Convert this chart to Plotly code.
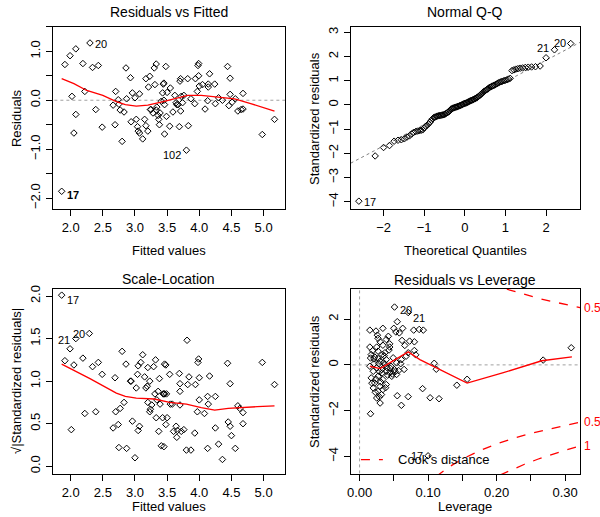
import plotly.graph_objects as go
from statistics import NormalDist

# ---------------- Data ----------------
# Panel 1: Residuals vs Fitted
fitted1 = [1.86,1.91,1.99,2.08,2.30,2.19,2.34,2.43,2.02,2.22,
           2.08,2.05,2.39,2.49,2.66,2.70,2.69,2.74,2.75,2.77,
           2.80,2.83,2.86,2.87,2.93,2.96,2.94,3.00,3.02,3.04,
           3.05,3.07,3.07,3.12,3.15,3.17,3.17,3.20,3.21,3.23,
           3.24,3.25,3.28,3.30,3.31,3.33,3.33,3.34,3.36,3.37,
           3.38,3.39,3.41,3.43,3.44,3.45,3.45,3.46,3.46,3.48,
           3.49,3.50,3.54,3.55,3.59,3.62,3.64,3.65,3.67,3.69,
           3.70,3.71,3.71,3.72,3.74,3.76,3.80,3.82,3.83,3.87,
           3.93,3.94,3.97,3.98,3.99,3.99,4.00,4.05,4.09,4.13,
           4.14,4.14,4.16,4.24,4.25,4.30,4.36,4.44,4.46,4.48,
           4.48,4.51,4.56,4.60,4.65,4.68,4.68,4.98,5.17]
resid1 = [-1.86,0.73,0.91,1.05,1.17,0.75,0.67,0.71,0.08,0.18,
          -0.29,-0.67,-0.19,-0.55,-0.10,0.18,-0.50,0.01,-0.08,-0.20,
          -0.84,-0.24,0.66,0.03,0.46,0.15,-0.44,0.05,-0.39,-0.54,
          -0.63,0.13,-0.67,-0.79,-0.39,0.44,-0.52,-0.63,0.27,0.49,
          -0.19,-0.19,-0.26,0.66,0.32,0.74,-0.20,-0.14,-0.31,-0.39,
          -0.50,-0.26,-0.02,0.15,0.33,0.35,0.00,-0.09,-0.69,0.69,
          -0.33,0.16,-0.53,0.25,-0.24,0.10,-0.05,-0.09,-0.09,-0.54,
          0.39,0.44,-0.22,0.08,-0.05,0.10,-1.02,0.44,-0.52,0.03,
          -0.07,0.44,0.18,0.71,0.75,0.50,0.29,0.32,-0.18,-0.01,
          0.33,0.27,0.54,0.33,-0.07,0.05,0.00,0.69,-0.11,0.45,
          0.12,-0.04,0.03,-0.22,-0.19,-0.18,0.14,-0.70,-0.39]
smooth1_x = [1.86,2.05,2.25,2.5,2.71,2.85,3.02,3.2,3.44,3.6,3.82,4.03,4.3,4.55,4.8,5.17]
smooth1_y = [0.44,0.34,0.20,0.10,-0.03,-0.09,-0.12,-0.10,-0.03,0.03,0.10,0.10,0.07,0.03,-0.07,-0.22]
labels1 = [("20", 2.30, 1.17, "left"), ("102", 3.80, -1.02, "right"), ("<b>17</b>", 1.86, -1.86, "left")]

# Panel 2: Normal Q-Q (sorted standardized residuals)
qq_sample = [-3.98,-2.11,-1.76,-1.68,-1.50,-1.46,-1.44,-1.40,-1.33,-1.28,
             -1.20,-1.13,-1.10,-1.08,-1.06,-1.05,-1.03,-0.95,-0.88,-0.84,
             -0.78,-0.72,-0.64,-0.57,-0.52,-0.50,-0.48,-0.46,-0.45,-0.44,
             -0.43,-0.42,-0.41,-0.40,-0.38,-0.35,-0.32,-0.30,-0.27,-0.22,
             -0.17,-0.15,-0.13,-0.12,-0.10,-0.09,-0.08,-0.06,-0.05,-0.03,
             -0.02,0.00,0.02,0.04,0.06,0.07,0.08,0.10,0.12,0.14,
             0.16,0.18,0.19,0.21,0.23,0.25,0.27,0.29,0.32,0.35,
             0.38,0.42,0.46,0.50,0.54,0.57,0.60,0.63,0.66,0.70,
             0.73,0.75,0.78,0.80,0.82,0.85,0.88,0.91,0.94,0.96,
             0.98,1.00,1.02,1.04,1.07,1.10,1.42,1.45,1.48,1.50,
             1.52,1.53,1.55,1.56,1.57,1.58,1.61,1.95,2.28,2.54]
qq_line_x = [-2.81, 2.84]
qq_line_y = [-2.41, 2.59]

# Panel 3: Scale-Location
fitted3 = [1.86,1.91,1.99,2.01,2.05,2.08,2.19,2.22,2.29,2.34,
           2.39,2.43,2.49,2.66,2.69,2.70,2.74,2.75,2.77,2.80,
           2.83,2.86,2.87,2.93,2.94,2.96,3.00,3.02,3.04,3.05,
           3.05,3.07,3.09,3.12,3.15,3.17,3.19,3.20,3.20,3.23,
           3.23,3.24,3.26,3.29,3.31,3.32,3.33,3.34,3.36,3.37,
           3.38,3.39,3.41,3.43,3.44,3.45,3.45,3.46,3.46,3.48,
           3.49,3.48,3.50,3.54,3.55,3.58,3.60,3.64,3.65,3.66,
           3.69,3.70,3.70,3.70,3.72,3.76,3.80,3.81,3.82,3.84,
           3.87,3.93,3.94,3.97,3.98,3.99,4.00,4.00,4.08,4.13,
           4.13,4.14,4.16,4.25,4.25,4.30,4.36,4.44,4.45,4.48,
           4.48,4.50,4.56,4.60,4.63,4.68,4.68,4.98,5.17]
sqrt_std3 = [2.01,1.24,1.38,0.43,1.19,1.50,1.27,0.62,1.56,1.17,
             0.64,1.22,1.08,0.45,1.04,0.64,0.49,0.22,0.68,1.35,
             0.75,1.20,0.21,1.00,1.00,0.53,0.10,0.92,1.08,0.42,
             1.18,0.47,1.22,1.31,1.05,0.92,0.94,1.16,0.75,0.64,
             1.00,0.67,0.72,1.17,0.85,1.25,0.57,0.78,0.88,0.41,
             1.03,0.73,0.24,0.57,0.85,0.23,0.85,1.20,0.85,1.19,
             0.85,0.49,0.57,1.08,0.73,0.73,0.41,0.47,0.34,0.42,
             1.09,0.97,0.88,0.72,0.41,0.43,0.19,1.48,0.96,1.05,
             0.19,0.39,0.96,0.64,1.22,1.26,1.04,0.78,0.62,0.82,
             0.21,0.73,1.06,0.82,0.45,0.26,0.08,1.21,0.52,0.97,
             0.47,0.36,0.21,0.71,0.68,0.63,0.50,1.22,0.96]
smooth3_x = [1.86,2.3,2.71,2.85,3.02,3.3,3.54,3.8,4.03,4.24,4.45,4.62,4.9,5.17]
smooth3_y = [1.20,1.03,0.86,0.82,0.80,0.79,0.75,0.73,0.69,0.66,0.68,0.69,0.70,0.71]
labels3 = [("17", 1.86, 2.01, "left"), ("21", 2.08, 1.50, "right"), ("20", 2.29, 1.56, "right")]

# Panel 4: Residuals vs Leverage
leverage4 = [0.051,0.071,0.055,0.015,0.024,0.034,0.050,0.053,0.063,0.079,
             0.087,0.093,0.062,0.027,0.030,0.025,0.015,0.039,0.044,0.034,
             0.073,0.080,0.071,0.080,0.017,0.027,0.037,0.021,0.015,0.030,
             0.039,0.037,0.049,0.054,0.061,0.068,0.046,0.051,0.044,0.054,
             0.039,0.032,0.025,0.020,0.017,0.027,0.034,0.022,0.030,0.039,
             0.020,0.027,0.034,0.025,0.032,0.055,0.071,0.061,0.016,0.092,
             0.030,0.103,0.116,0.109,0.112,0.142,0.157,0.268,0.309,0.100,
             0.082,0.022,0.028,0.033,0.041,0.045,0.048,0.018,0.024,0.029,
             0.036,0.043,0.026,0.019,0.031,0.038,0.023,0.047,0.052,0.057,
             0.035,0.040,0.021,0.027,0.033,0.016,0.029,0.042,0.058,0.065,
             0.060,0.066,0.044]
std4 = [2.53,2.29,1.89,1.52,1.48,1.60,1.60,1.44,1.60,1.52,
        1.55,1.52,1.07,1.16,1.01,0.78,0.78,1.11,0.92,0.86,
        1.04,1.01,0.53,0.63,0.45,0.60,0.53,0.26,-0.06,0.16,
        0.23,0.01,0.31,0.09,0.23,0.38,-0.06,-0.21,-0.35,-0.42,
        -0.28,-0.21,-0.13,-0.28,-0.57,-0.50,-0.64,-0.79,-0.94,-0.86,
        -1.01,-1.16,-1.08,-1.45,-1.30,-1.35,-1.39,-1.77,-2.14,-1.04,
        -1.67,-1.44,-1.48,0.07,-0.19,-0.89,-0.63,0.21,0.75,-3.98,
        0.44,0.35,0.05,-0.35,-0.45,-0.15,-0.40,-0.80,-0.62,-0.30,
        0.40,0.65,1.30,0.62,-0.75,-1.00,-1.20,-0.50,-0.30,-0.25,
        0.10,-0.12,0.05,0.28,0.45,0.30,-1.40,1.25,1.40,-0.20,
        0.05,0.85,0.78]
smooth4_x = [0.015,0.030,0.044,0.063,0.071,0.088,0.100,0.126,0.157,0.21,0.266,0.310]
smooth4_y = [-0.06,-0.16,0.09,0.45,0.57,0.23,0.05,-0.35,-0.80,-0.34,0.18,0.35]
cook05_up_x = [0.215,0.24,0.26,0.28,0.30,0.322]
cook05_up_y = [3.31,3.08,2.92,2.78,2.65,2.51]
cook05_lo_x = [0.112,0.13,0.15,0.175,0.20,0.225,0.25,0.275,0.30,0.322]
cook05_lo_y = [-4.88,-4.48,-4.12,-3.76,-3.46,-3.21,-3.00,-2.81,-2.65,-2.51]
cook1_lo_x = [0.205,0.22,0.24,0.26,0.28,0.30,0.322]
cook1_lo_y = [-4.82,-4.61,-4.36,-4.13,-3.93,-3.74,-3.55]
cook_labels = [("0.5", 2.51), ("0.5", -2.51), ("1", -3.55)]
labels4 = [("20", 0.051, 2.53, "left"), ("21", 0.071, 2.29, "left"), ("17", 0.100, -3.98, "right")]

# ---------------- Figure ----------------
FONT = "Liberation Sans, Arial, Helvetica, sans-serif"
fig = go.Figure()

def pts(x, y, xa, ya):
    fig.add_trace(go.Scatter(x=x, y=y, mode="markers", xaxis=xa, yaxis=ya,
                             marker=dict(symbol="diamond-open", size=5, color="black",
                                         line=dict(width=1, color="black")),
                             showlegend=False, hoverinfo="skip"))

def line(x, y, xa, ya, color="red", dash="solid", width=1.3):
    fig.add_trace(go.Scatter(x=x, y=y, mode="lines", xaxis=xa, yaxis=ya,
                             line=dict(color=color, dash=dash, width=width),
                             showlegend=False, hoverinfo="skip"))

# Panel 1
line([1.0, 6.0], [0, 0], "x", "y", color="#a0a0a0", dash="dot", width=1)
pts(fitted1, resid1, "x", "y")
line(smooth1_x, smooth1_y, "x", "y")
# Panel 2
line(qq_line_x, qq_line_y, "x2", "y2", color="#808080", dash="dot", width=1)
n = len(qq_sample)
theo = [NormalDist().inv_cdf((i + 0.5) / n) for i in range(n)]
pts(theo, qq_sample, "x2", "y2")
# Panel 3
pts(fitted3, sqrt_std3, "x3", "y3")
line(smooth3_x, smooth3_y, "x3", "y3")
# Panel 4
line([-1, 1], [0, 0], "x4", "y4", color="#a0a0a0", dash="dot", width=1)
line([0, 0], [-10, 10], "x4", "y4", color="#a0a0a0", dash="dot", width=1)
pts(leverage4, std4, "x4", "y4")
line(smooth4_x, smooth4_y, "x4", "y4")
line(cook05_up_x, cook05_up_y, "x4", "y4", dash="dash")
line(cook05_lo_x, cook05_lo_y, "x4", "y4", dash="dash")
line(cook1_lo_x, cook1_lo_y, "x4", "y4", dash="dash")
line([0.002, 0.034], [-4.15, -4.15], "x4", "y4", dash="dash")

def axis(domain, rng, tickvals, ticktext, anchor, angle=0):
    return dict(domain=domain, range=rng, tickvals=tickvals, ticktext=ticktext,
                anchor=anchor, showline=True, mirror=True, linecolor="black",
                linewidth=1, ticks="outside", ticklen=6, tickcolor="black",
                showgrid=False, zeroline=False, tickangle=angle,
                tickfont=dict(family=FONT, size=13, color="black"))

W, H = 600, 517
xd1 = [49 / W, 283 / W]
xd2 = [349 / W, 580 / W]
yd_top = [(H - 207) / H, (H - 23) / H]
yd_bot = [(H - 474) / H, (H - 287) / H]

fx_vals = [2.0, 2.5, 3.0, 3.5, 4.0, 4.5, 5.0]
fx_text = ["2.0", "2.5", "3.0", "3.5", "4.0", "4.5", "5.0"]

fig.update_layout(
    width=W, height=H, margin=dict(l=0, r=0, t=0, b=0),
    paper_bgcolor="white", plot_bgcolor="white", showlegend=False,
    font=dict(family=FONT, size=12, color="black"),
    xaxis=axis(xd1, [1.72, 5.335], fx_vals, fx_text, "y"),
    yaxis=axis(yd_top, [-2.23, 1.50], [-2, -1.5, -1, -0.5, 0, 0.5, 1, 1.5],
               ["\u22122.0", "", "\u22121.0", "", "0.0", "", "1.0", ""], "x", -90),
    xaxis2=axis(xd2, [-2.81, 2.84], [-2, -1, 0, 1, 2],
                ["\u22122", "\u22121", "0", "1", "2"], "y2"),
    yaxis2=axis(yd_top, [-4.32, 3.23], [-4, -3, -2, -1, 0, 1, 2, 3],
                ["\u22124", "\u22123", "\u22122", "\u22121", "0", "1", "2", "3"], "x2", -90),
    xaxis3=axis(xd1, [1.72, 5.335], fx_vals, fx_text, "y3"),
    yaxis3=axis(yd_bot, [-0.095, 2.085], [0, 0.5, 1, 1.5, 2],
                ["0.0", "0.5", "1.0", "1.5", "2.0"], "x3", -90),
    xaxis4=axis(xd2, [-0.013, 0.322], [0, 0.05, 0.1, 0.15, 0.2, 0.25, 0.3],
                ["0.00", "", "0.10", "", "0.20", "", "0.30"], "y4"),
    yaxis4=axis(yd_bot, [-4.79, 3.33], [-4, -2, 0, 2],
                ["\u22124", "\u22122", "0", "2"], "x4", -90),
)

ann = []
def text(x, y, s, size=13, angle=0, color="black"):
    ann.append(dict(x=x / W, y=(H - y) / H, xref="paper", yref="paper", text=s,
                    showarrow=False, textangle=angle, xanchor="center", yanchor="middle",
                    font=dict(family=FONT, size=size, color=color)))

# titles
text(166, 8, "Residuals vs Fitted", 14)
text(464.5, 8, "Normal Q-Q", 14)
text(166, 277, "Scale-Location", 14)
text(464.5, 278, "Residuals vs Leverage", 14)
# axis titles
text(166, 248, "Fitted values")
text(464.5, 248, "Theoretical Quantiles")
text(166, 506, "Fitted values")
text(464.5, 506, "Leverage")
text(12, 115, "Residuals", angle=-90)
text(312, 115, "Standardized residuals", angle=-90)
text(12, 380, "\u221a|Standardized residuals|", angle=-90)
text(312, 380, "Standardized residuals", angle=-90)

def ptlabel(xa, ya, s, x, y, side, dy=0, dx=3):
    ann.append(dict(x=x, y=y, xref=xa, yref=ya, text=s, showarrow=False,
                    xanchor=side, yanchor="middle",
                    xshift=dx if side == "left" else -dx, yshift=dy,
                    font=dict(family=FONT, size=11, color="black")))

for (s, x, y, side), dy in zip(labels1, [-1, -5, -4]):
    ptlabel("x", "y", s, x, y, side, dy)
qq_labels = [("17", theo[0], qq_sample[0], "left", -1),
             ("21", theo[-2], qq_sample[-2], "right", 2),
             ("20", theo[-1], qq_sample[-1], "right", 1)]
for s, x, y, side, dy in qq_labels:
    ptlabel("x2", "y2", s, x, y, side, dy)
for (s, x, y, side), dy, dx in zip(labels3, [-5, -1, -1], [3, 4, 2]):
    ptlabel("x3", "y3", s, x, y, side, dy, dx)
for (s, x, y, side), dy in zip(labels4, [-3, -5, 0]):
    ptlabel("x4", "y4", s, x, y, side, dy)

# Cook's distance legend text and contour labels
ann.append(dict(x=0.053, y=-4.15, xref="x4", yref="y4", text="Cook's distance",
                showarrow=False, xanchor="left", yanchor="middle",
                font=dict(family=FONT, size=13, color="black")))
for s, y in cook_labels:
    ann.append(dict(x=582 / W, y=y, xref="paper", yref="y4", text=s, showarrow=False,
                    xanchor="left", yanchor="middle",
                    font=dict(family=FONT, size=12, color="red")))

fig.update_layout(annotations=ann)
fig.write_html("out.html",
               config={"displayModeBar": False},
               post_script="document.body.style.margin='0';document.body.style.overflow='hidden';")
